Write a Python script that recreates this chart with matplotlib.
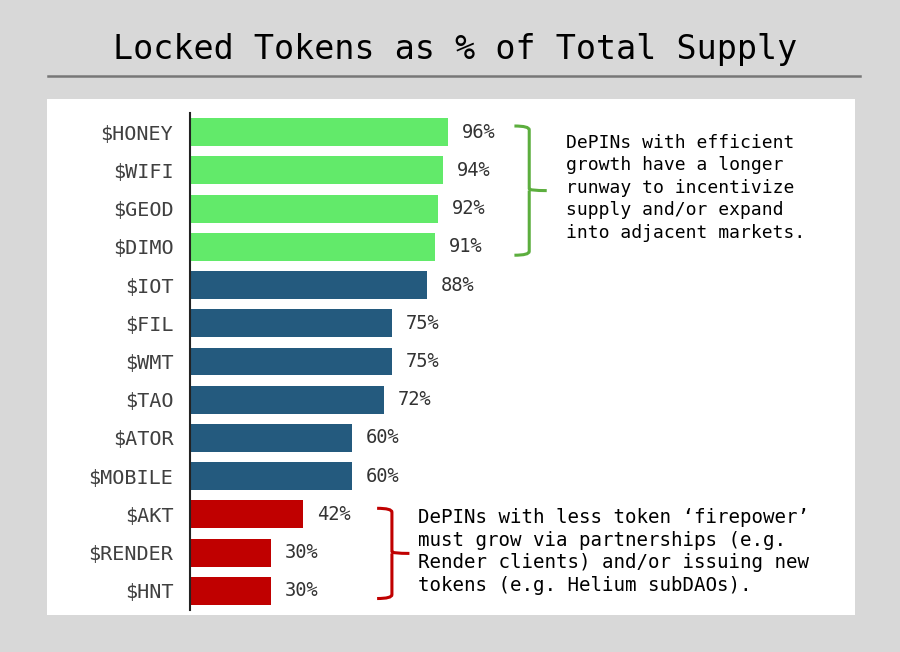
import matplotlib
matplotlib.use("Agg")
import matplotlib.pyplot as plt
from matplotlib.patches import Rectangle, PathPatch
from matplotlib.lines import Line2D
from matplotlib.path import Path

tokens = ["$HONEY", "$WIFI", "$GEOD", "$DIMO", "$IOT", "$FIL", "$WMT",
          "$TAO", "$ATOR", "$MOBILE", "$AKT", "$RENDER", "$HNT"]
values = [96, 94, 92, 91, 88, 75, 75, 72, 60, 60, 42, 30, 30]
groups = ["high"] * 4 + ["mid"] * 6 + ["low"] * 3
value_labels = [f"{v}%" for v in values]

title = "Locked Tokens as % of Total Supply"
note_high = ("DePINs with efficient\ngrowth have a longer\nrunway to incentivize\n"
             "supply and/or expand\ninto adjacent markets.")
note_low = ("DePINs with less token \u2018firepower\u2019\nmust grow via partnerships (e.g.\n"
            "Render clients) and/or issuing new\ntokens (e.g. Helium subDAOs).")

colors = {"high": "#62ea6a", "mid": "#245a7e", "low": "#c00000"}
MONO = ["DejaVu Sans Mono"]

W, H = 900, 652
fig = plt.figure(figsize=(9, 6.52), dpi=100)
fig.patch.set_facecolor("#d8d8d8")

# white panel
fig.add_artist(Rectangle((47 / W, 1 - 615 / H), 808 / W, 516 / H,
                         transform=fig.transFigure, facecolor="white",
                         edgecolor="none", zorder=0))
# title and rule
fig.text(455 / W, 1 - 49 / H, title, ha="center", va="center",
         fontsize=24, family=MONO, color="black")
fig.add_artist(Line2D([48 / W, 860 / W], [1 - 76 / H, 1 - 76 / H],
                      transform=fig.transFigure, color="#777777", linewidth=1.8))

ax = fig.add_axes([190 / W, 1 - 610 / H, 665 / W, 497 / H])
ax.set_facecolor("none")
ypos = list(range(len(tokens)))
ax.barh(ypos, values, height=0.73,
        color=[colors[g] for g in groups], edgecolor="none", zorder=2)
ax.set_xlim(0, 247)
ax.set_ylim(len(tokens) - 0.5, -0.5)
ax.set_yticks(ypos)
ax.set_yticklabels(tokens, family=MONO, fontsize=14.5, color="#404040")
ax.tick_params(axis="y", length=0, pad=12)
ax.set_xticks([])
for s in ["top", "right", "bottom"]:
    ax.spines[s].set_visible(False)
ax.spines["left"].set_color("#222222")
ax.spines["left"].set_linewidth(1.5)

for y, v, lab in zip(ypos, values, value_labels):
    ax.annotate(lab, (v, y), xytext=(10, 0), textcoords="offset points",
                ha="left", va="center", fontsize=13.5, family=MONO,
                color="#333333")


def bracket(ax, x, y0, y1, color, arm=5.5, tip=6.5):
    ym = (y0 + y1) / 2
    verts = [(x - arm, y0), (x, y0), (x, y0 + 0.1), (x, ym - 0.05),
             (x, ym), (x + tip, ym), (x, ym), (x, ym + 0.05),
             (x, y1 - 0.1), (x, y1), (x - arm, y1)]
    codes = [Path.MOVETO, Path.CURVE3, Path.CURVE3, Path.LINETO,
             Path.CURVE3, Path.CURVE3, Path.MOVETO, Path.LINETO,
             Path.LINETO, Path.CURVE3, Path.CURVE3]
    ax.add_patch(PathPatch(Path(verts, codes), facecolor="none",
                           edgecolor=color, linewidth=2.2,
                           clip_on=False, zorder=3))


hi_idx = [i for i, g in enumerate(groups) if g == "high"]
lo_idx = [i for i, g in enumerate(groups) if g == "low"]
hi_max = max(values[i] for i in hi_idx)
lo_max = max(values[i] for i in lo_idx)

bracket(ax, hi_max + 30, hi_idx[0] - 0.16, hi_idx[-1] + 0.22, "#5cae3e")
bracket(ax, lo_max + 33, lo_idx[0] - 0.16, lo_idx[-1] + 0.2, "#c00000")

ax.text(hi_max + 43.5, (hi_idx[0] + hi_idx[-1]) / 2 - 0.05, note_high,
        ha="left", va="center", fontsize=13, family=MONO, color="black",
        linespacing=1.32)
ax.text(lo_max + 42.5, (lo_idx[0] + lo_idx[-1]) / 2 - 0.03, note_low,
        ha="left", va="center", fontsize=13.8, family=MONO, color="black",
        linespacing=1.26)

fig.savefig("out.png", dpi=100, facecolor=fig.get_facecolor())
